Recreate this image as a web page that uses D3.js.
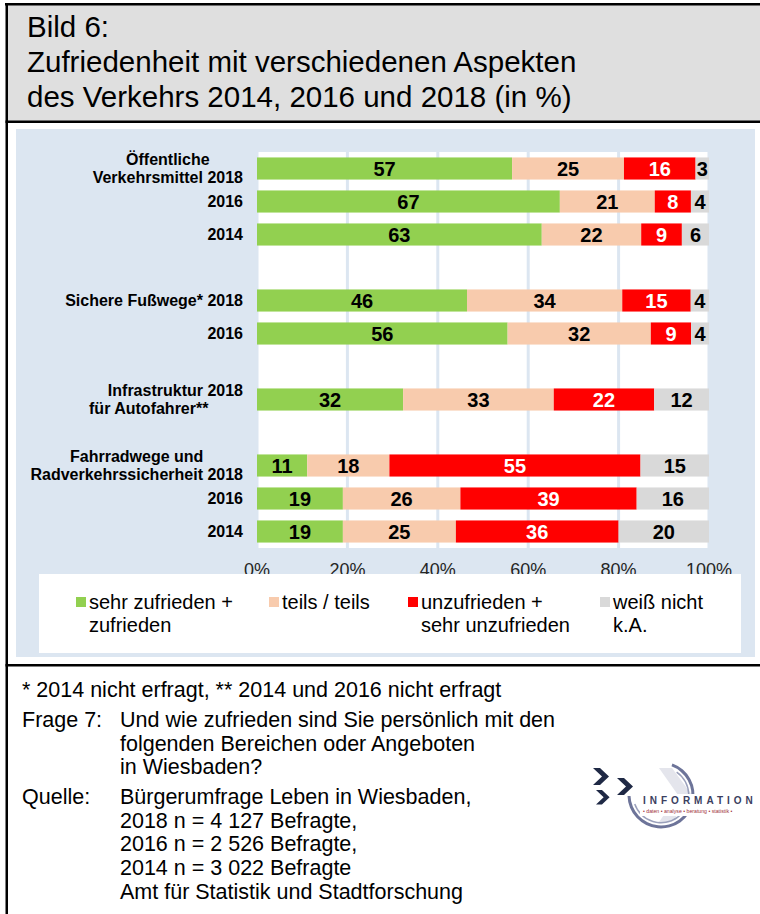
<!DOCTYPE html>
<html>
<head>
<meta charset="utf-8">
<script src="https://cdnjs.cloudflare.com/ajax/libs/d3/7.8.5/d3.min.js"></script>
<style>
    body { margin: 0; background: #fff; }
    text { font-family: Arial, "Liberation Sans", sans-serif; }
    .cat { white-space: pre; }
</style>
</head>
<body>
<div id="chart"></div>
<script>
// rows of the chart, "" = empty spacer row, "|" = line break
const rowLabels = ["Öffentliche|Verkehrsmittel 2018", "2016", "2014", "",
    "Sichere Fußwege* 2018", "2016", "",
    "      Infrastruktur 2018|für Autofahrer**      ", "",
    "Fahrradwege und|Radverkehrssicherheit 2018", "2016", "2014"];

const sehrZufrieden = [57, 67, 63, null, 46, 56, null, 32, null, 11, 19, 19];
const teilsTeils    = [25, 21, 22, null, 34, 32, null, 33, null, 18, 26, 25];
const unzufrieden   = [16, 8, 9, null, 15, 9, null, 22, null, 55, 39, 36];
const weissNicht    = [3, 4, 6, null, 4, 4, null, 12, null, 15, 16, 20];

const seriesKeys = ["sehr", "teils", "unzu", "weiss"];
const seriesNames = [["sehr zufrieden +", "zufrieden"], ["teils / teils"],
    ["unzufrieden +", "sehr unzufrieden"], ["weiß nicht", "k.A."]];
const seriesColors = ["#92d050", "#f8cbad", "#ff0000", "#d9d9d9"];
const labelColors = ["#000", "#000", "#fff", "#000"];

const tickValues = [0, 0.2, 0.4, 0.6, 0.8, 1];

const titleLines = ["Bild 6:", "Zufriedenheit mit verschiedenen Aspekten",
    "des Verkehrs 2014, 2016 und 2018 (in %)"];

const noteLine = "* 2014 nicht erfragt, ** 2014 und 2016 nicht erfragt";
const frageText = ["Und wie zufrieden sind Sie persönlich mit den",
    "folgenden Bereichen oder Angeboten", "in Wiesbaden?"];
const quelleText = ["Bürgerumfrage Leben in Wiesbaden,", "2018 n = 4 127 Befragte,",
    "2016 n = 2 526 Befragte,", "2014 n = 3 022 Befragte", "Amt für Statistik und Stadtforschung"];

// build table for the stack
const table = rowLabels.map((l, i) => ({
    row: i,
    sehr: sehrZufrieden[i], teils: teilsTeils[i], unzu: unzufrieden[i], weiss: weissNicht[i]
})).filter(d => d.sehr !== null);

const svg = d3.select("#chart").append("svg")
    .attr("width", 760).attr("height", 914);

const panelColor = "#dce6f1";

//////////////// frame + title box
svg.append("rect").attr("x", 7).attr("y", 5).attr("width", 753).attr("height", 116).attr("fill", "#dfdfdf");
svg.append("rect").attr("x", 5).attr("y", 3).attr("width", 755).attr("height", 2.5).attr("fill", "#000");
svg.append("rect").attr("x", 5.5).attr("y", 3).attr("width", 2.5).attr("height", 911).attr("fill", "#000");
svg.append("rect").attr("x", 5.5).attr("y", 120.5).attr("width", 755).attr("height", 2.5).attr("fill", "#000");
svg.append("rect").attr("x", 5.5).attr("y", 664).attr("width", 755).attr("height", 2.5).attr("fill", "#000");

svg.selectAll(".title").data(titleLines).enter()
    .append("text")
    .attr("class", "title")
    .attr("x", 27)
    .attr("y", (d, i) => 37 + i * 35)
    .attr("font-size", "29.5px")
    .attr("fill", "#000")
    .text(d => d);

//////////////// chart panel
svg.append("rect").attr("x", 16).attr("y", 129).attr("width", 739).attr("height", 528).attr("fill", panelColor);

const x = d3.scaleLinear().domain([0, 1]).range([257, 709]);
const y = d3.scaleBand().domain(d3.range(rowLabels.length)).range([152, 548]).paddingInner(0.33).paddingOuter(0.165);

svg.append("rect").attr("x", x(0)).attr("y", 152).attr("width", x(1) - x(0)).attr("height", 396).attr("fill", "#fff");

svg.selectAll(".grid").data(tickValues).enter()
    .append("line")
    .attr("x1", d => x(d)).attr("x2", d => x(d))
    .attr("y1", 152).attr("y2", 548)
    .attr("stroke", panelColor).attr("stroke-width", 3);

const stack = d3.stack().keys(seriesKeys).offset(d3.stackOffsetExpand);
const stacked = stack(table);

const layers = svg.selectAll(".layer").data(stacked).enter()
    .append("g").attr("class", "layer")
    .attr("fill", (d, i) => seriesColors[i]);

layers.selectAll("rect").data(d => d).enter()
    .append("rect")
    .attr("x", d => x(d[0]))
    .attr("y", d => y(d.data.row))
    .attr("width", d => x(d[1]) - x(d[0]))
    .attr("height", y.bandwidth());

layers.selectAll(".val").data((d, i) => d.map(s => ({ s: s, key: d.key, i: i }))).enter()
    .append("text")
    .attr("x", d => (x(d.s[0]) + x(d.s[1])) / 2)
    .attr("y", d => y(d.s.data.row) + y.bandwidth() / 2 + 7)
    .attr("text-anchor", "middle")
    .attr("font-size", "20px")
    .attr("font-weight", "bold")
    .attr("fill", d => labelColors[d.i])
    .text(d => d.s.data[d.key]);

// category labels
const lineH = 17.5;
rowLabels.forEach((label, i) => {
    if (!label) return;
    const lines = label.split("|");
    const cy = y(i) + y.bandwidth() / 2;
    const g = svg.append("g");
    const t = g.selectAll("text").data(lines).enter()
        .append("text")
        .attr("class", "cat")
        .attr("font-size", "16px")
        .attr("font-weight", "bold")
        .attr("fill", "#000")
        .attr("y", (d, j) => cy - (lines.length - 1) * lineH / 2 + j * lineH + 5.5)
        .text(d => d);
    let maxW = 0;
    t.each(function () { maxW = Math.max(maxW, this.getComputedTextLength()); });
    t.attr("text-anchor", "middle").attr("x", 243 - maxW / 2);
});

// tick labels (partly hidden by legend box)
svg.selectAll(".tick").data(tickValues).enter()
    .append("text")
    .attr("x", d => x(d))
    .attr("y", 576)
    .attr("text-anchor", "middle")
    .attr("font-size", "18px")
    .attr("fill", "#262626")
    .text(d3.format(".0%"));

//////////////// legend
svg.append("rect").attr("x", 39).attr("y", 574).attr("width", 702).attr("height", 79).attr("fill", "#fff");

const legendX = [76, 269, 408, 600];
const legend = svg.selectAll(".leg").data(seriesNames).enter()
    .append("g")
    .attr("transform", (d, i) => "translate(" + legendX[i] + ",0)");

legend.append("rect")
    .attr("x", 0).attr("y", 597)
    .attr("width", 10).attr("height", 10)
    .attr("fill", (d, i) => seriesColors[i]);

legend.selectAll("text").data(d => d).enter()
    .append("text")
    .attr("x", 13)
    .attr("y", (d, j) => 609 + j * 23)
    .attr("font-size", "20px")
    .attr("fill", "#000")
    .text(d => d);

//////////////// footer
const foot = svg.append("g").attr("font-size", "21.5px").attr("fill", "#000");
foot.append("text").attr("x", 22).attr("y", 697).text(noteLine);
foot.append("text").attr("x", 22).attr("y", 727).text("Frage 7:");
foot.selectAll(".fr").data(frageText).enter()
    .append("text").attr("class", "fr")
    .attr("x", 120).attr("y", (d, i) => 727 + i * 23.5).text(d => d);
foot.append("text").attr("x", 22).attr("y", 804).text("Quelle:");
foot.selectAll(".qu").data(quelleText).enter()
    .append("text").attr("class", "qu")
    .attr("x", 120).attr("y", (d, i) => 804 + i * 23.7).text(d => d);

//////////////// logo
const logo = svg.append("g");
logo.append("path")
    .attr("d", "M672,768 L692,795 L672,822 L659,822 L678,795 L659,768 Z")
    .attr("fill", "#e4e5ec");
const arc = d3.arc();
logo.append("path")
    .attr("transform", "translate(661,795)")
    .attr("d", arc({ innerRadius: 30.5, outerRadius: 33.5, startAngle: 0.35, endAngle: 2 * Math.PI - 1.6 }))
    .attr("fill", "#6d7499");
logo.append("path")
    .attr("transform", "translate(661,795)")
    .attr("d", arc({ innerRadius: 27, outerRadius: 28.5, startAngle: 0.6, endAngle: 2 * Math.PI - 1.9 }))
    .attr("fill", "#9aa0bb");
const chevron = "M0,0 L7,0 L16,8.5 L7,17 L0,17 L9,8.5 Z";
[[593, 768], [617, 778], [596, 790]].forEach(p => {
    logo.append("path")
        .attr("d", chevron)
        .attr("transform", "translate(" + p[0] + "," + p[1] + ")" + (p[1] === 790 ? " scale(0.85)" : ""))
        .attr("fill", "#1f2945");
});
logo.append("rect").attr("x", 640).attr("y", 794).attr("width", 116).attr("height", 22).attr("fill", "#fff");
logo.append("text")
    .attr("x", 643).attr("y", 804)
    .attr("font-size", "10px").attr("font-weight", "bold")
    .attr("letter-spacing", "4px")
    .attr("fill", "#3b4060")
    .text("INFORMATION");
logo.append("text")
    .attr("x", 643).attr("y", 812.5)
    .attr("font-size", "5.2px")
    .attr("fill", "#a0303a")
    .text("• daten • analyse • beratung • statistik •");
</script>
</body>
</html>
